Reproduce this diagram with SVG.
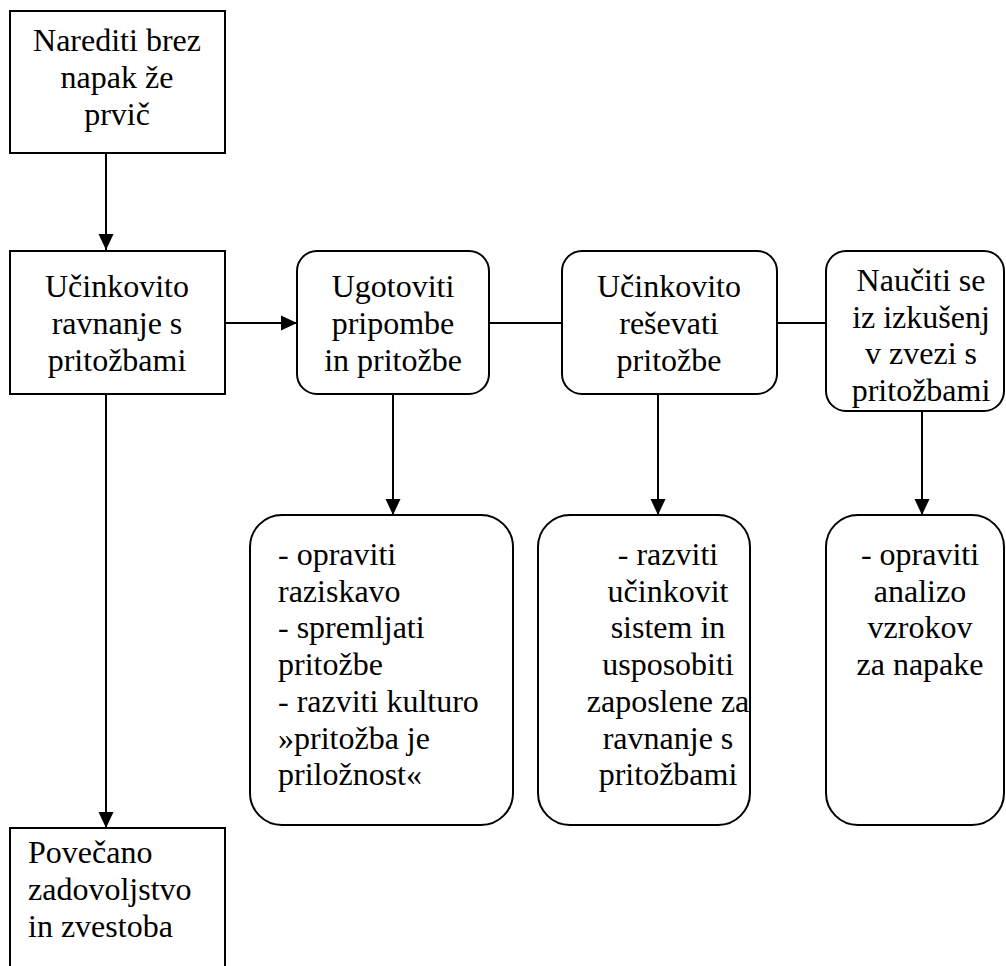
<svg xmlns="http://www.w3.org/2000/svg" width="1006" height="966" viewBox="0 0 1006 966">
<style>
.box{fill:#fff;stroke:#000;stroke-width:2}
.t{font-family:'Liberation Serif','Times New Roman',Times,'DejaVu Serif',serif;font-size:32px;fill:#000}
.c{text-anchor:middle}
.ln{stroke:#000;stroke-width:2;fill:none}
</style>
<defs>
<marker id="ah" markerUnits="userSpaceOnUse" markerWidth="16" markerHeight="16" viewBox="0 0 16 16" refX="16" refY="8" orient="auto">
<path d="M0,0.5 L16,8 L0,15.5 Z" fill="#000"/>
</marker>
</defs>
<g id="connectors">
<line class="ln" x1="106" y1="153" x2="106" y2="250" marker-end="url(#ah)"/>
<line class="ln" x1="225" y1="323" x2="297" y2="323" marker-end="url(#ah)"/>
<line class="ln" x1="489" y1="323" x2="562" y2="323"/>
<line class="ln" x1="777" y1="323" x2="826" y2="323"/>
<line class="ln" x1="393" y1="394" x2="393" y2="515" marker-end="url(#ah)"/>
<line class="ln" x1="658" y1="394" x2="658" y2="515" marker-end="url(#ah)"/>
<line class="ln" x1="922" y1="411" x2="922" y2="515" marker-end="url(#ah)"/>
<line class="ln" x1="106" y1="394" x2="106" y2="828" marker-end="url(#ah)"/>
</g>
<g id="n1">
<rect class="box" x="10" y="11" width="215" height="142"/>
<text class="t c" font-family="Liberation Serif, serif" x="117" y="51">Narediti brez</text>
<text class="t c" x="117" y="88">napak že</text>
<text class="t c" x="117" y="125">prvič</text>
</g>
<g id="n2">
<rect class="box" x="10" y="251" width="215" height="143"/>
<text class="t c" x="117" y="297">Učinkovito</text>
<text class="t c" x="117" y="334">ravnanje s</text>
<text class="t c" x="117" y="371">pritožbami</text>
</g>
<g id="n3">
<rect class="box" x="297" y="251" width="192" height="143" rx="20"/>
<text class="t c" x="393" y="297">Ugotoviti</text>
<text class="t c" x="393" y="334">pripombe</text>
<text class="t c" x="393" y="371">in pritožbe</text>
</g>
<g id="n4">
<rect class="box" x="562" y="251" width="215" height="143" rx="20"/>
<text class="t c" x="669" y="297">Učinkovito</text>
<text class="t c" x="669" y="334">reševati</text>
<text class="t c" x="669" y="371">pritožbe</text>
</g>
<g id="n5">
<rect class="box" x="826" y="251" width="178" height="160" rx="20"/>
<text class="t c" x="921" y="291">Naučiti se</text>
<text class="t c" x="921" y="328">iz izkušenj</text>
<text class="t c" x="921" y="364">v zvezi s</text>
<text class="t c" x="921" y="401">pritožbami</text>
</g>
<g id="n6">
<rect class="box" x="250" y="515" width="263" height="310" rx="32"/>
<text class="t" x="278" y="565">- opraviti</text>
<text class="t" x="278" y="602">raziskavo</text>
<text class="t" x="278" y="638">- spremljati</text>
<text class="t" x="278" y="675">pritožbe</text>
<text class="t" x="278" y="712">- razviti kulturo</text>
<text class="t" x="278" y="749">»pritožba je</text>
<text class="t" x="278" y="785">priložnost«</text>
</g>
<g id="n7">
<rect class="box" x="538" y="515" width="212" height="310" rx="32"/>
<text class="t c" x="668" y="565">- razviti</text>
<text class="t c" x="668" y="602">učinkovit</text>
<text class="t c" x="668" y="638">sistem in</text>
<text class="t c" x="668" y="675">usposobiti</text>
<text class="t c" x="668" y="712">zaposlene za</text>
<text class="t c" x="668" y="749">ravnanje s</text>
<text class="t c" x="668" y="785">pritožbami</text>
</g>
<g id="n8">
<rect class="box" x="826" y="515" width="178" height="310" rx="32"/>
<text class="t c" x="920" y="565">- opraviti</text>
<text class="t c" x="920" y="602">analizo</text>
<text class="t c" x="920" y="638">vzrokov</text>
<text class="t c" x="920" y="675">za napake</text>
</g>
<g id="n9">
<rect class="box" x="10" y="828" width="215" height="160"/>
<text class="t" x="28" y="863">Povečano</text>
<text class="t" x="28" y="900">zadovoljstvo</text>
<text class="t" x="28" y="937">in zvestoba</text>
</g>
</svg>
